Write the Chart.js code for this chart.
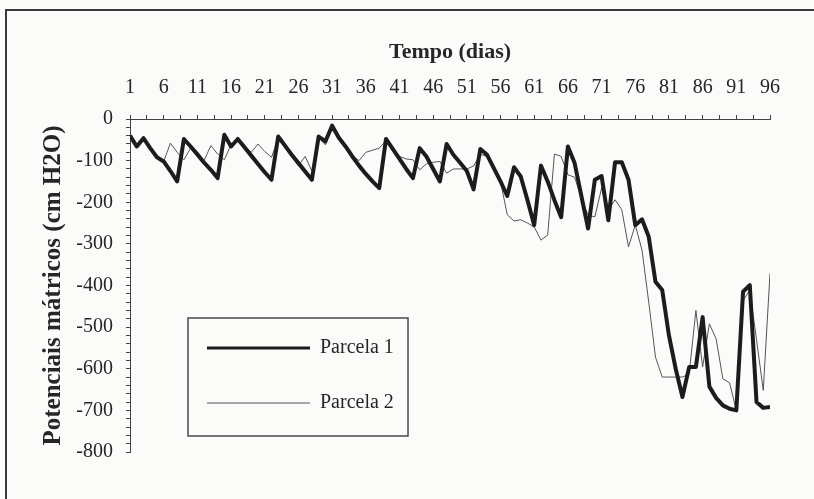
<!DOCTYPE html>
<html>
<head>
<meta charset="utf-8">
<script src="https://cdn.jsdelivr.net/npm/chart.js@4.4.1/dist/chart.umd.min.js"></script>
<style>
  html, body { margin: 0; padding: 0; background: #fbfbfa; overflow: hidden; }
  #wrap { position: relative; width: 814px; height: 499px; }
  #frame { position: absolute; left: 5px; top: 9px; width: 830px; height: 520px;
           border-left: 2px solid #3a3a3a; border-top: 2px solid #3a3a3a; }
  canvas { position: absolute; left: 0; top: 0; }
</style>
</head>
<body>
<div id="wrap">
  <div id="frame"></div>
  <canvas id="c" width="814" height="499"></canvas>
</div>
<script>
// Categories: days 1..96
const days = Array.from({ length: 96 }, (_, i) => i + 1);

const xTitle = 'Tempo (dias)';
const yTitle = 'Potenciais mátricos (cm H2O)';
const seriesNames = ['Parcela 1', 'Parcela 2'];

// Parcela 1 (thick line), cm H2O
const parcela1 = [
  -40, -66, -46, -70, -92, -102, -125, -150, -48, -66,
  -85, -105, -122, -142, -38, -66, -48, -68, -88, -108,
  -128, -146, -42, -64, -86, -106, -126, -146, -42, -54,
  -16, -45, -66, -90, -112, -132, -150, -166, -48, -72,
  -96, -120, -142, -70, -90, -120, -150, -60, -86, -105,
  -125, -169, -72, -86, -118, -150, -185, -116, -138, -195,
  -255, -112, -150, -195, -236, -66, -106, -185, -263, -146,
  -137, -243, -104, -104, -146, -255, -241, -283, -391, -411,
  -520, -600, -668, -596, -596, -476, -643, -670, -688, -696,
  -700, -415, -399, -680, -694, -692
];

// Parcela 2 (thin line), cm H2O
const parcela2 = [
  -40, -66, -46, -70, -92, -102, -58, -80, -98, -70,
  -84, -100, -64, -84, -98, -62, -50, -68, -80, -60,
  -78, -92, -48, -66, -88, -112, -90, -125, -45, -62,
  -20, -48, -68, -88, -100, -80, -75, -70, -52, -72,
  -90, -96, -98, -122, -108, -104, -102, -130, -120, -120,
  -120, -113, -85, -90, -120, -150, -230, -245, -242, -250,
  -259, -291, -279, -84, -90, -134, -140, -190, -231, -235,
  -166, -218, -194, -218, -307, -255, -315, -440, -572, -620,
  -620, -620, -620, -612, -460, -596, -492, -528, -624, -634,
  -700, -436, -411, -530, -652, -371
];

// Tick values
const xTickValues = [];
for (let v = 1; v <= 96.001; v += 2.5) xTickValues.push(v);
const yTickValues = [];
for (let v = -800; v <= 0; v += 20) yTickValues.push(v);

const serif = "'Liberation Serif', 'DejaVu Serif', serif";
const ink = '#262626';

const legendPlugin = {
  id: 'boxLegend',
  afterDraw(chart) {
    const ctx = chart.ctx;
    ctx.save();
    const bx = 188, by = 318, bw = 220, bh = 118;
    ctx.fillStyle = '#fbfbfa';
    ctx.fillRect(bx, by, bw, bh);
    ctx.strokeStyle = '#4a4a4a';
    ctx.lineWidth = 1.5;
    ctx.strokeRect(bx, by, bw, bh);
    const rows = [348, 403];
    chart.data.datasets.forEach((ds, i) => {
      const y = rows[i];
      ctx.strokeStyle = ds.borderColor;
      ctx.lineWidth = i === 0 ? 3 : 1;
      ctx.beginPath();
      ctx.moveTo(207, y);
      ctx.lineTo(310, y);
      ctx.stroke();
      ctx.fillStyle = ink;
      ctx.font = "20px " + serif;
      ctx.textBaseline = 'middle';
      ctx.textAlign = 'left';
      ctx.fillText(ds.label, 320, y);
    });
    ctx.restore();
  }
};

new Chart(document.getElementById('c'), {
  type: 'line',
  data: {
    datasets: [
      {
        label: seriesNames[0],
        data: parcela1.map((v, i) => ({ x: days[i], y: v })),
        borderColor: '#1c1c1c',
        borderWidth: 4,
        pointRadius: 0,
        tension: 0,
        fill: false,
        borderJoinStyle: 'round'
      },
      {
        label: seriesNames[1],
        data: parcela2.map((v, i) => ({ x: days[i], y: v })),
        borderColor: '#555555',
        borderWidth: 1,
        pointRadius: 0,
        tension: 0,
        fill: false
      }
    ]
  },
  options: {
    responsive: false,
    animation: false,
    devicePixelRatio: 1,
    layout: { padding: { left: 0, right: 44, top: 0, bottom: 47 } },
    plugins: { legend: { display: false }, tooltip: { enabled: false } },
    scales: {
      x: {
        type: 'linear',
        position: 'top',
        min: 1,
        max: 96,
        afterFit(scale) { scale.height = 119; },
        afterBuildTicks(scale) { scale.ticks = xTickValues.map(v => ({ value: v })); },
        ticks: {
          autoSkip: false,
          maxRotation: 0,
          padding: 15,
          color: ink,
          font: { family: serif, size: 20 },
          callback: (v) => ((v - 1) % 5 === 0 ? String(v) : '')
        },
        grid: { drawOnChartArea: false, drawTicks: true, tickLength: 4, color: '#444' },
        border: { display: true, color: '#444', width: 1 },
        title: {
          display: true,
          text: xTitle,
          color: ink,
          font: { family: serif, size: 22, weight: 'bold' },
          padding: { top: 39, bottom: 0 }
        }
      },
      y: {
        type: 'linear',
        min: -800,
        max: 0,
        afterFit(scale) { scale.width = 130; },
        afterBuildTicks(scale) { scale.ticks = yTickValues.map(v => ({ value: v })); },
        ticks: {
          autoSkip: false,
          padding: 13,
          color: ink,
          font: { family: serif, size: 20 },
          callback: (v) => (v % 100 === 0 ? String(v === 0 ? 0 : v) : '')
        },
        grid: { drawOnChartArea: false, drawTicks: true, tickLength: 4, color: '#444' },
        border: { display: true, color: '#444', width: 1 },
        title: {
          display: true,
          text: yTitle,
          color: ink,
          font: { family: serif, size: 25, weight: 'bold' },
          padding: { top: 39, bottom: 0 }
        }
      }
    }
  },
  plugins: [legendPlugin]
});
</script>
</body>
</html>
